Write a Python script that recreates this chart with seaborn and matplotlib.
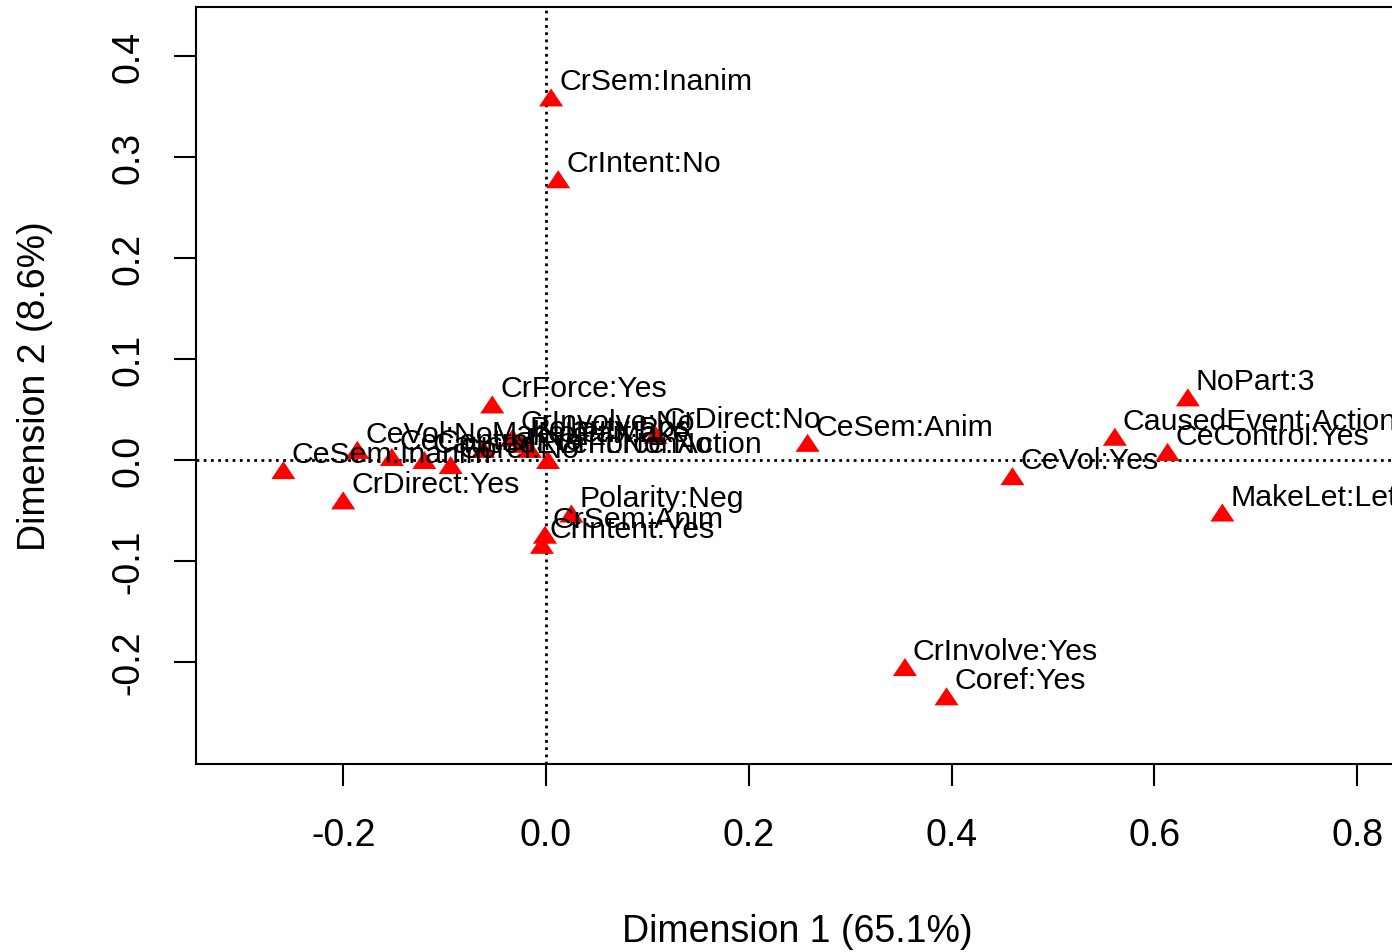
import matplotlib
matplotlib.use("Agg")
import matplotlib.pyplot as plt
import seaborn as sns
import pandas as pd

labels = ["CrSem:Inanim", "CrIntent:No", "CrForce:Yes", "CrInvolve:No", "CrDirect:No",
          "CeSem:Anim", "NoPart:3", "CausedEvent:Action", "CeControl:Yes", "CeVol:Yes",
          "MakeLet:Let", "CrInvolve:Yes", "Coref:Yes", "CeSem:Inanim", "CrDirect:Yes",
          "CeVol:No", "CeControl:No", "CausedEvent:NonAction", "Coref:No", "MakeLet:Make",
          "Polarity:Pos", "NoPart:2", "CrForce:No", "Polarity:Neg", "CrSem:Anim", "CrIntent:Yes"]
dim1 = [0.005, 0.012, -0.053, -0.033, 0.108,
        0.258, 0.633, 0.561, 0.613, 0.460,
        0.667, 0.354, 0.395, -0.259, -0.200,
        -0.186, -0.152, -0.120, -0.094, -0.062,
        -0.024, -0.016, 0.002, 0.025, -0.001, -0.004]
dim2 = [0.359, 0.278, 0.055, 0.022, 0.025,
        0.017, 0.062, 0.023, 0.008, -0.016,
        -0.052, -0.205, -0.234, -0.010, -0.040,
        0.010, 0.003, 0.000, -0.005, 0.011,
        0.016, 0.011, 0.000, -0.053, -0.074, -0.084]
xticks = [-0.2, 0.0, 0.2, 0.4, 0.6, 0.8]
yticks = [-0.2, -0.1, 0.0, 0.1, 0.2, 0.3, 0.4]
xlabel = "Dimension 1 (65.1%)"
ylabel = "Dimension 2 (8.6%)"

df = pd.DataFrame({"label": labels, "Dim1": dim1, "Dim2": dim2})

sns.set_style("white")
plt.rcParams["font.family"] = ["Liberation Sans", "DejaVu Sans"]

fig = plt.figure(figsize=(13.92, 9.53), dpi=100)
W, H = 1392, 953
left, right, top, bottom = 196, 1398, 8, 765
ax = fig.add_axes([left / W, 1 - bottom / H, (right - left) / W, (bottom - top) / H])

tri = [(0, 0.75), (-1, -0.75), (1, -0.75)]
sns.scatterplot(data=df, x="Dim1", y="Dim2", ax=ax, marker=tri, s=300,
                color="#ff0000", edgecolor="none", linewidth=0, zorder=3)

ax.axhline(0, color="black", linestyle=(0, (1.0, 1.6)), linewidth=2.0, zorder=1)
ax.axvline(0, color="black", linestyle=(0, (1.0, 1.6)), linewidth=2.0, zorder=1)

for lab, x, y in zip(labels, dim1, dim2):
    ax.annotate(lab, (x, y), xytext=(8, 8), textcoords="offset pixels",
                ha="left", va="baseline", fontsize=21.8, color="black", zorder=4,
                annotation_clip=False)

ax.set_xlim((left - 546) / 1014, (right - 546) / 1014)
ax.set_ylim((461 - bottom) / 1010, (461 - top) / 1010)
ax.set_xticks(xticks)
ax.set_yticks(yticks)
ax.set_xticklabels([f"{t:.1f}" for t in xticks], fontsize=27, color="black")
ax.set_yticklabels([f"{t:.1f}" for t in yticks], fontsize=27, rotation=90, va="center",
                   color="black")
ax.tick_params(axis="both", direction="out", length=16, width=1.5, color="black",
               left=True, bottom=True)
ax.tick_params(axis="x", pad=22)
ax.tick_params(axis="y", pad=20)

for sp in ax.spines.values():
    sp.set_color("black")
    sp.set_linewidth(1.5)

ax.set_xlabel(xlabel, fontsize=27, va="center", color="black")
ax.set_ylabel(ylabel, fontsize=27, va="center", color="black")
ax.xaxis.set_label_coords(0.5, (bottom - 932) / (bottom - top))
ax.yaxis.set_label_coords((35 - left) / (right - left), 0.5)

fig.savefig("out.png", dpi=100)
